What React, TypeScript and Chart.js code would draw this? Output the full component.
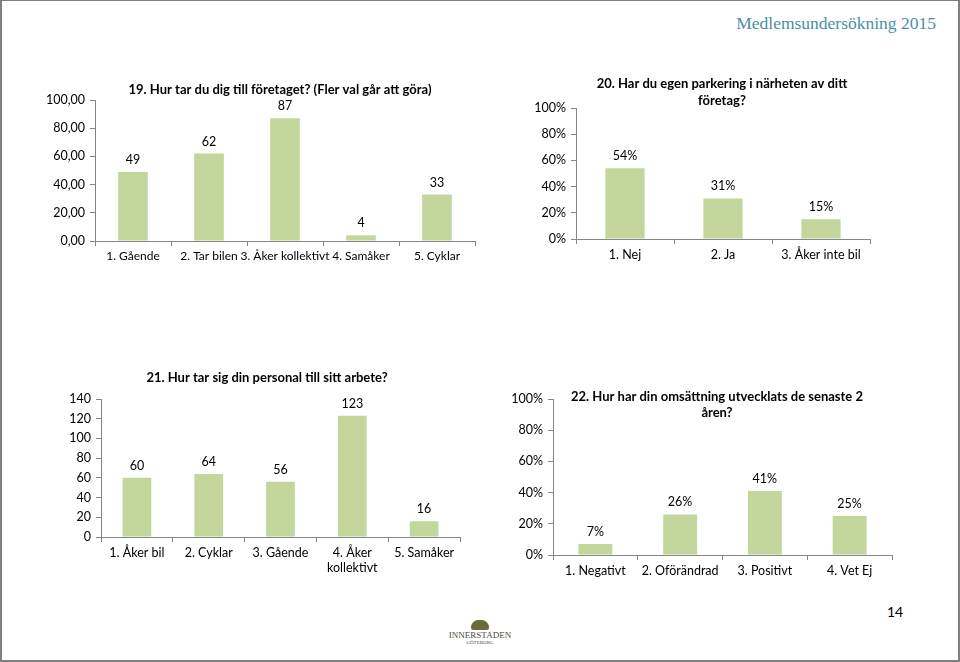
import React, { useEffect, useRef } from "react";
import { Chart, registerables } from "chart.js";

Chart.register(...registerables);

// ---- Data ----
const q19Title = ["19. Hur tar du dig till företaget? (Fler val går att göra)"];
const q19Labels = ["1. Gående", "2. Tar bilen", "3. Åker kollektivt", "4. Samåker", "5. Cyklar"];
const q19Values = [49, 62, 87, 4, 33];

const q20Title = ["20. Har du egen parkering i närheten av ditt", "företag?"];
const q20Labels = ["1. Nej", "2. Ja", "3. Åker inte bil"];
const q20Values = [54, 31, 15];

const q21Title = ["21. Hur tar sig din personal till sitt arbete?"];
const q21Labels = ["1. Åker bil", "2. Cyklar", "3. Gående", ["4. Åker", "kollektivt"], "5. Samåker"];
const q21Values = [60, 64, 56, 123, 16];

const q22Title = ["22. Hur har din omsättning utvecklats de senaste 2", "åren?"];
const q22Labels = ["1. Negativt", "2. Oförändrad", "3. Positivt", "4. Vet Ej"];
const q22Values = [7, 26, 41, 25];

const headerText = "Medlemsundersökning 2015";
const pageNumber = "14";

const FONT = "Lato, 'Open Sans', sans-serif";
const BAR = "#c3d69b";
const AXIS = "#868686";

type Props = {
  left: number; top: number; width: number; height: number;
  labels: any[]; values: number[];
  max: number; step: number;
  tickFmt: (v: number) => string;
  valFmt: (v: number) => string;
  yWidth: number; xHeight: number; padTop: number; padRight: number;
  barPct: number; xFont: number;
  title: string[]; titleX: number; titleY: number; titleGap: number;
};

function BarChart(p: Props) {
  const ref = useRef<HTMLCanvasElement | null>(null);
  useEffect(() => {
    if (!ref.current) return;
    const plugin = {
      id: "extras",
      afterDatasetsDraw(chart: any) {
        const ctx = chart.ctx;
        ctx.save();
        const meta = chart.getDatasetMeta(0);
        ctx.fillStyle = "#000";
        ctx.font = `12.5px ${FONT}`;
        ctx.textAlign = "center";
        ctx.textBaseline = "middle";
        meta.data.forEach((el: any, i: number) => {
          ctx.fillText(p.valFmt(p.values[i]), el.x, el.y - 12);
        });
        ctx.font = `bold 13px ${FONT}`;
        p.title.forEach((t, i) => {
          ctx.fillText(t, p.titleX, p.titleY + i * p.titleGap);
        });
        ctx.restore();
      },
    };
    const chart = new Chart(ref.current, {
      type: "bar",
      data: {
        labels: p.labels,
        datasets: [{ data: p.values, backgroundColor: BAR, borderWidth: 0, barPercentage: p.barPct, categoryPercentage: 1 }],
      },
      options: {
        animation: false,
        responsive: false,
        maintainAspectRatio: false,
        layout: { padding: { top: p.padTop, right: p.padRight, left: 0, bottom: 0 } },
        plugins: { legend: { display: false }, tooltip: { enabled: false }, title: { display: false } },
        scales: {
          x: {
            grid: { display: true, drawOnChartArea: false, drawTicks: true, tickLength: 5, color: AXIS, offset: true },
            border: { display: true, color: AXIS, width: 1 },
            ticks: { color: "#000", font: { size: p.xFont, family: FONT }, maxRotation: 0, minRotation: 0, autoSkip: false, padding: 3 },
            afterFit: (s: any) => { s.height = p.xHeight; },
          },
          y: {
            min: 0, max: p.max,
            grid: { display: true, drawOnChartArea: false, drawTicks: true, tickLength: 5, color: AXIS },
            border: { display: true, color: AXIS, width: 1 },
            ticks: { stepSize: p.step, color: "#000", font: { size: 12.5, family: FONT }, padding: 5, callback: (v: any) => p.tickFmt(Number(v)) },
            afterFit: (s: any) => { s.width = p.yWidth; },
          },
        },
      },
      plugins: [plugin],
    } as any);
    return () => chart.destroy();
  }, []);
  return (
    <canvas
      ref={ref}
      width={p.width}
      height={p.height}
      style={{ position: "absolute", left: p.left, top: p.top, width: p.width, height: p.height }}
    />
  );
}

const dec2 = (v: number) => v.toFixed(2).replace(".", ",");
const pct = (v: number) => `${v}%`;
const plain = (v: number) => `${v}`;

export default function App() {
  return (
    <div style={{ position: "absolute", left: 0, top: 0, width: 960, height: 662, background: "#fff", overflow: "hidden", fontFamily: FONT }}>
      <div style={{ position: "absolute", left: 0, top: 0, width: 956, height: 659, border: "2px solid #7f7f7f", borderTop: "1px solid #7f7f7f" }} />
      <div style={{ position: "absolute", right: 24, top: 13, fontFamily: "'Liberation Serif', serif", fontSize: 17.5, color: "#4a8fa3", whiteSpace: "nowrap" }}>
        {headerText}
      </div>
      <BarChart
        left={0} top={0} width={480} height={280}
        labels={q19Labels} values={q19Values} max={100} step={20}
        tickFmt={dec2} valFmt={plain}
        yWidth={95} xHeight={39} padTop={100} padRight={5} barPct={0.39} xFont={12}
        title={q19Title} titleX={280} titleY={90} titleGap={17}
      />
      <BarChart
        left={480} top={0} width={480} height={280}
        labels={q20Labels} values={q20Values} max={100} step={20}
        tickFmt={pct} valFmt={pct}
        yWidth={96} xHeight={41} padTop={108} padRight={90} barPct={0.4} xFont={12.5}
        title={q20Title} titleX={242} titleY={84} titleGap={17}
      />
      <BarChart
        left={0} top={340} width={480} height={250}
        labels={q21Labels} values={q21Values} max={140} step={20}
        tickFmt={plain} valFmt={plain}
        yWidth={101} xHeight={53} padTop={59} padRight={20} barPct={0.4} xFont={12.5}
        title={q21Title} titleX={267} titleY={38} titleGap={17}
      />
      <BarChart
        left={480} top={340} width={480} height={250}
        labels={q22Labels} values={q22Values} max={100} step={20}
        tickFmt={pct} valFmt={pct}
        yWidth={73} xHeight={35} padTop={59} padRight={68} barPct={0.4} xFont={12.5}
        title={q22Title} titleX={237} titleY={57} titleGap={16}
      />
      <div style={{ position: "absolute", left: 887, top: 603, fontSize: 14, color: "#000" }}>{pageNumber}</div>
      <div style={{ position: "absolute", left: 440, top: 620, width: 80, textAlign: "center", fontFamily: "'Liberation Serif', serif", color: "#4a4a3a" }}>
        <div style={{ margin: "0 auto", width: 18, height: 10, borderRadius: "9px 9px 3px 3px", background: "#6b6a3a" }} />
        <div style={{ fontSize: 9, lineHeight: "10px", letterSpacing: 0 }}>INNERSTADEN</div>
        <div style={{ fontSize: 5, lineHeight: "6px" }}>GÖTEBORG</div>
      </div>
    </div>
  );
}
